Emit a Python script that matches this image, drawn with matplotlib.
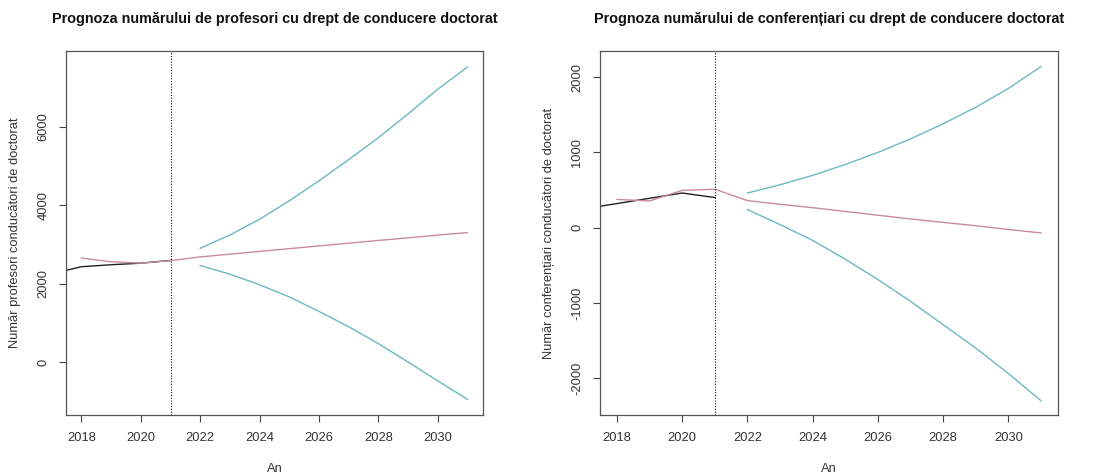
import matplotlib
matplotlib.use("Agg")
import matplotlib.pyplot as plt

plt.rcParams['font.family'] = ['Liberation Sans', 'DejaVu Sans']
plt.rcParams['axes.unicode_minus'] = False

# ---- data: professors (left panel) ----
prof_obs_years = [2017, 2018, 2019, 2020, 2021]
prof_obs = [2250, 2430, 2480, 2520, 2590]
prof_fit_years = [2018, 2019, 2020, 2021, 2022, 2023, 2024, 2025, 2026, 2027, 2028, 2029, 2030, 2031]
prof_fit = [2650, 2555, 2520, 2585, 2680, 2750, 2820, 2890, 2960, 3030, 3100, 3165, 3235, 3300]
prof_fc_years = [2022, 2023, 2024, 2025, 2026, 2027, 2028, 2029, 2030, 2031]
prof_upper = [2900, 3240, 3640, 4110, 4620, 5160, 5720, 6325, 6955, 7520]
prof_lower = [2460, 2240, 1970, 1660, 1290, 900, 470, 0, -480, -950]

# ---- data: lecturers (right panel) ----
conf_obs_years = [2017, 2018, 2019, 2020, 2021]
conf_obs = [250, 320, 390, 460, 400]
conf_fit_years = [2018, 2019, 2020, 2021, 2022, 2023, 2024, 2025, 2026, 2027, 2028, 2029, 2030, 2031]
conf_fit = [375, 355, 495, 510, 360, 310, 265, 215, 165, 115, 70, 25, -25, -70]
conf_fc_years = [2022, 2023, 2024, 2025, 2026, 2027, 2028, 2029, 2030, 2031]
conf_upper = [460, 570, 695, 840, 1000, 1180, 1380, 1600, 1850, 2140]
conf_lower = [240, 40, -170, -420, -690, -980, -1290, -1600, -1940, -2300]

x_ticks = [2018, 2020, 2022, 2024, 2026, 2028, 2030]
prof_yticks = [0, 2000, 4000, 6000]
conf_yticks = [-2000, -1000, 0, 1000, 2000]
split_year = 2021

titles = ["Prognoza numărului de profesori cu drept de conducere doctorat",
          "Prognoza numărului de conferențiari cu drept de conducere doctorat"]
ylabels = ["Număr profesori conducători de doctorat",
           "Număr conferențiari conducători de doctorat"]

obs_c = '#222222'
fit_c = '#c98b9b'
ci_c = '#6bb8c4'
txt_c = '#333333'

fig = plt.figure(figsize=(11, 4.74), dpi=100)
ax1 = fig.add_axes([0.060, 0.1245, 0.379, 0.7675])
ax2 = fig.add_axes([0.5455, 0.1245, 0.4163, 0.7675])

panels = [
    (ax1, prof_obs_years, prof_obs, prof_fit_years, prof_fit, prof_fc_years, prof_upper, prof_lower,
     prof_yticks, (-1350, 7924)),
    (ax2, conf_obs_years, conf_obs, conf_fit_years, conf_fit, conf_fc_years, conf_upper, conf_lower,
     conf_yticks, (-2490, 2345)),
]

for i, (ax, oy, ov, fy, fv, cy, up, lo, yt, ylim) in enumerate(panels):
    ax.plot(oy, ov, color=obs_c, lw=1.0)
    ax.plot(fy, fv, color=fit_c, lw=1.0)
    ax.plot(cy, up, color=ci_c, lw=1.0)
    ax.plot(cy, lo, color=ci_c, lw=1.0)
    ax.axvline(split_year, color='#111111', lw=0.8, ls=(0, (1, 1.5)))
    ax.set_xlim(2017.48, 2031.52)
    ax.set_ylim(*ylim)
    ax.set_xticks(x_ticks)
    ax.set_yticks(yt)
    ax.tick_params(direction='out', length=5, width=0.8, colors='#444444',
                   labelcolor=txt_c, labelsize=9.3, pad=7)
    for lab in ax.get_yticklabels():
        lab.set_rotation(90)
        lab.set_va('center')
    for s in ax.spines.values():
        s.set_color('#555555')
        s.set_linewidth(0.9)
    ax.set_title(titles[i], fontsize=10.4, fontweight='bold', color='#111111', pad=20)
    ax.set_xlabel("An", fontsize=9.3, color=txt_c, labelpad=14)
    ax.set_ylabel(ylabels[i], fontsize=9.3, color=txt_c, labelpad=12)

fig.savefig("out.png", dpi=100, facecolor='white')
